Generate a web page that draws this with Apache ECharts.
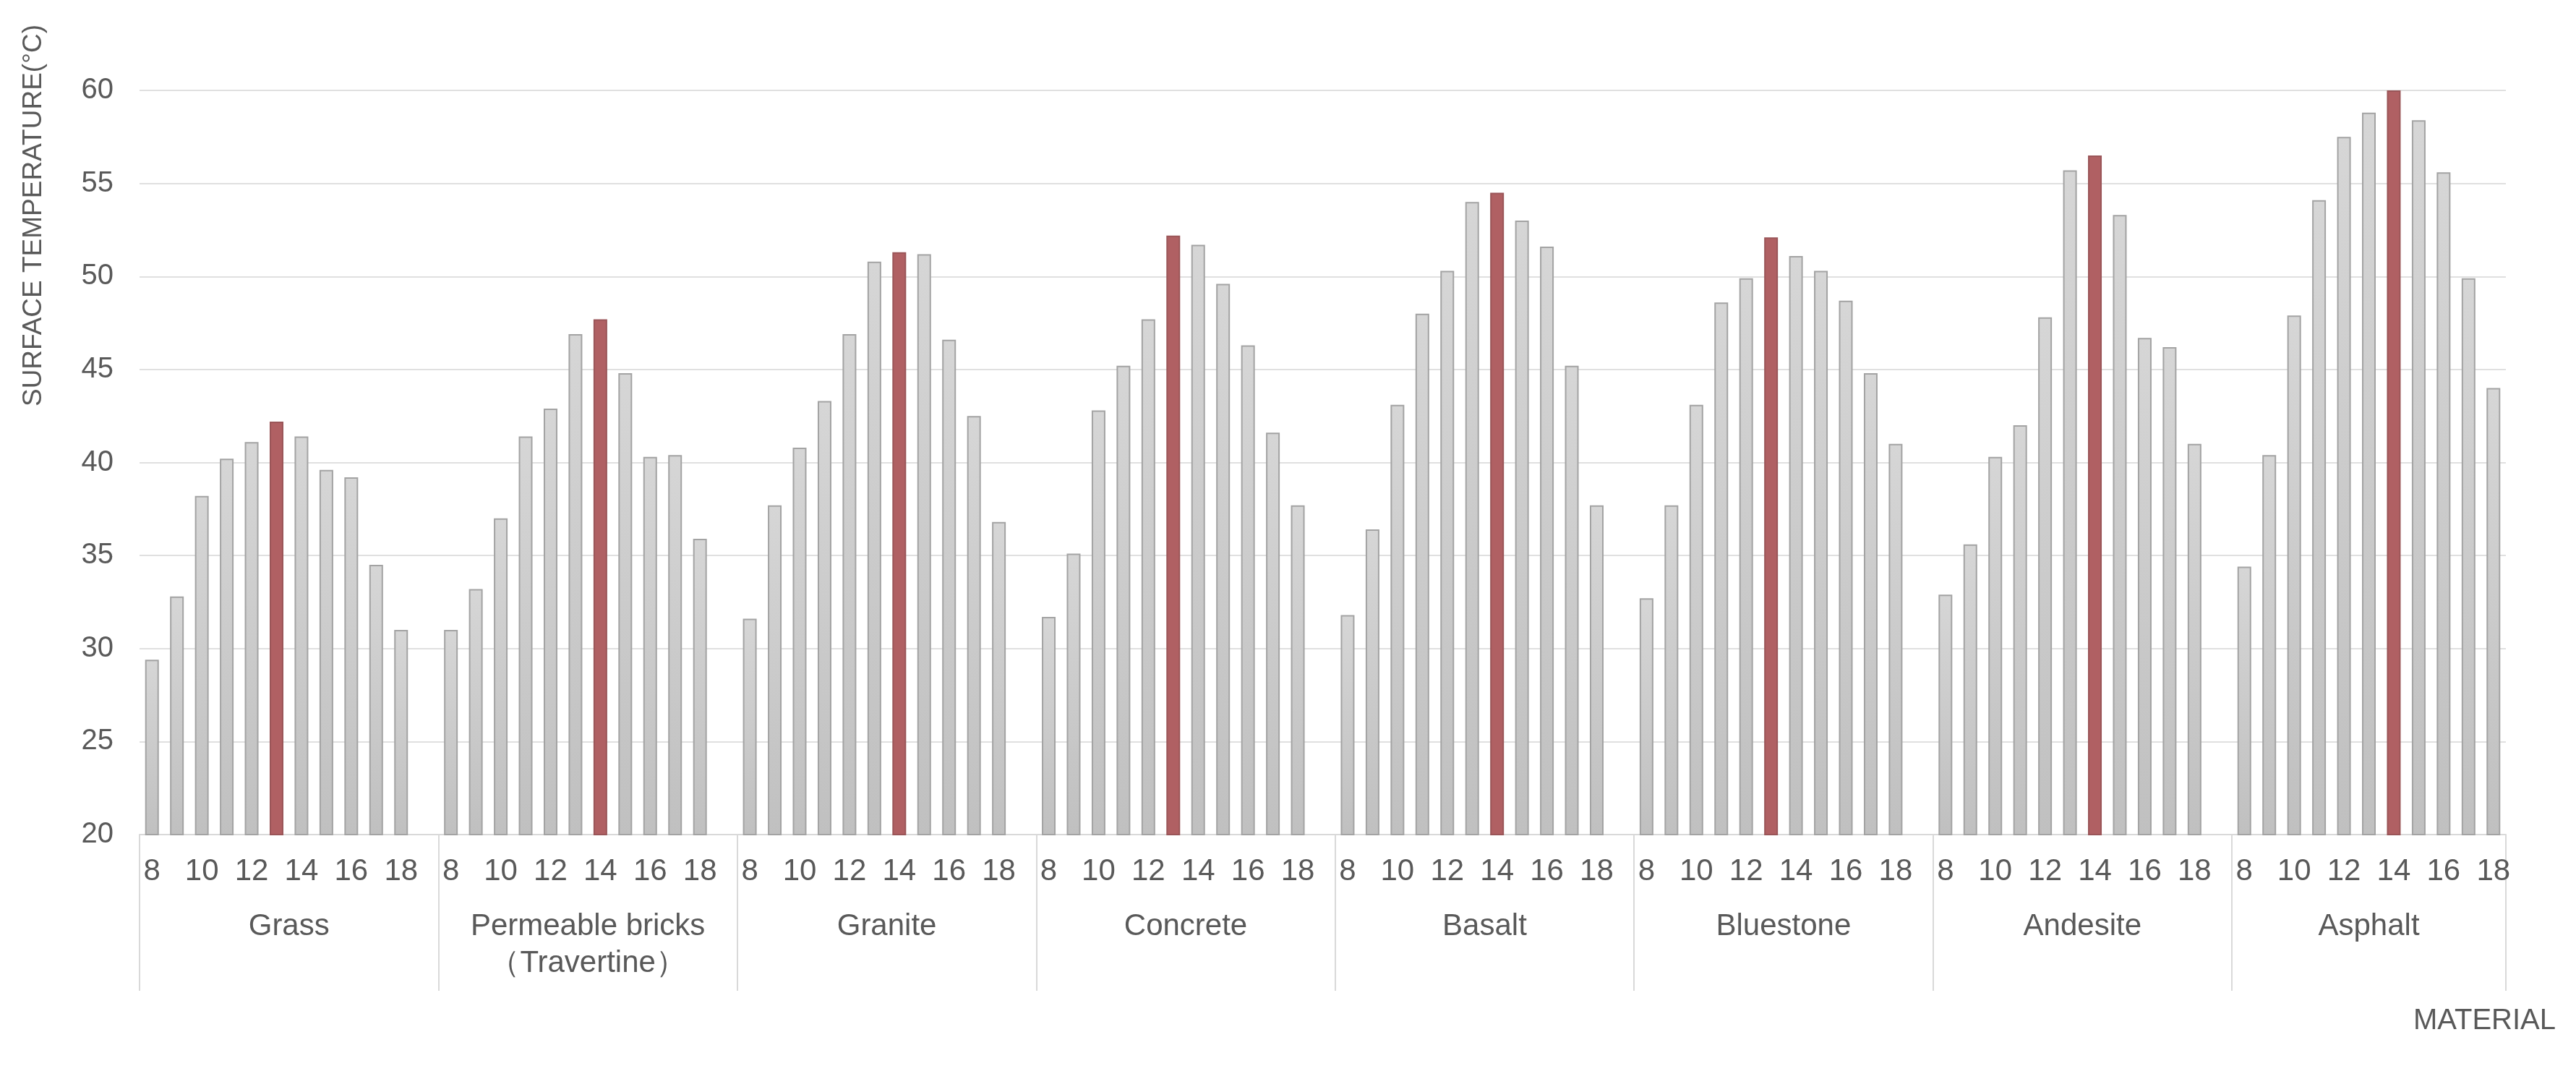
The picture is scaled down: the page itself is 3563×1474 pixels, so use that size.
<!DOCTYPE html>
<html>
<head>
<meta charset="utf-8">
<script src="https://cdn.jsdelivr.net/npm/echarts@6/dist/echarts.min.js"></script>
<style>
html,body{margin:0;padding:0;background:#fff;}
#chart{width:3563px;height:1474px;}
</style>
</head>
<body>
<div id="chart"></div>
<script>
// ---- data ----
const materials = ['Grass', 'Permeable bricks\n（Travertine）', 'Granite', 'Concrete', 'Basalt', 'Bluestone', 'Andesite', 'Asphalt'];
const hours = [8, 9, 10, 11, 12, 13, 14, 15, 16, 17, 18];
const grass      = [29.4, 32.8, 38.2, 40.2, 41.1, 42.2, 41.4, 39.6, 39.2, 34.5, 31.0];
const permeable  = [31.0, 33.2, 37.0, 41.4, 42.9, 46.9, 47.7, 44.8, 40.3, 40.4, 35.9];
const granite    = [31.6, 37.7, 40.8, 43.3, 46.9, 50.8, 51.3, 51.2, 46.6, 42.5, 36.8];
const concrete   = [31.7, 35.1, 42.8, 45.2, 47.7, 52.2, 51.7, 49.6, 46.3, 41.6, 37.7];
const basalt     = [31.8, 36.4, 43.1, 48.0, 50.3, 54.0, 54.5, 53.0, 51.6, 45.2, 37.7];
const bluestone  = [32.7, 37.7, 43.1, 48.6, 49.9, 52.1, 51.1, 50.3, 48.7, 44.8, 41.0];
const andesite   = [32.9, 35.6, 40.3, 42.0, 47.8, 55.7, 56.5, 53.3, 46.7, 46.2, 41.0];
const asphalt    = [34.4, 40.4, 47.9, 54.1, 57.5, 58.8, 60.0, 58.4, 55.6, 49.9, 44.0];
const yTicks = [20, 25, 30, 35, 40, 45, 50, 55, 60];
const yTitle = 'SURFACE TEMPERATURE(°C)';
const xTitle = 'MATERIAL';

// ---- build ----
const groups = [grass, permeable, granite, concrete, basalt, bluestone, andesite, asphalt];
const FONT = "'Liberation Sans', Arial, sans-serif";
const TEXT = '#595959';
const gray = {
  type: 'linear', x: 0, y: 0, x2: 0, y2: 1,
  colorStops: [{offset: 0, color: '#d6d6d6'}, {offset: 1, color: '#c0c0c0'}]
};
const slots = [];
const values = [];
const bounds = [];
const centers = [];
groups.forEach((vals, g) => {
  const start = slots.length;
  bounds.push(start);
  let maxI = 0;
  vals.forEach((v, i) => { if (v > vals[maxI]) maxI = i; });
  vals.forEach((v, i) => {
    slots.push(g + '|' + hours[i]);
    values.push(i === maxI
      ? {value: v, itemStyle: {color: '#b06063', borderColor: '#9a5558'}}
      : v);
  });
  if (g < groups.length - 1) { slots.push(g + '|'); values.push(null); }
  centers.push((start + slots.length) / 2);
});
bounds.push(slots.length);

const chart = echarts.init(document.getElementById('chart'), null, {renderer: 'canvas'});
chart.setOption({
  animation: false,
  backgroundColor: '#ffffff',
  textStyle: {fontFamily: FONT},
  grid: {left: 193, right: 97, top: 125, bottom: 320},
  xAxis: [{
    type: 'category',
    data: slots,
    position: 'bottom',
    axisLine: {show: true, lineStyle: {color: '#d9d9d9', width: 2}},
    axisTick: {show: false},
    axisLabel: {
      interval: 0, margin: 30, fontSize: 42, color: TEXT, fontFamily: FONT,
      formatter: (v) => { const h = v.split('|')[1]; return (h !== '' && +h % 2 === 0) ? h : ''; }
    },
    splitLine: {show: false}
  }, {
    type: 'value',
    min: 0, max: slots.length,
    position: 'bottom',
    axisLine: {show: false},
    axisTick: {show: true, customValues: bounds, length: 216, lineStyle: {color: '#d9d9d9', width: 2}},
    axisLabel: {
      show: true, customValues: centers, margin: 102, fontSize: 42, lineHeight: 51,
      color: TEXT, fontFamily: FONT, verticalAlign: 'top',
      formatter: (v) => { const i = centers.indexOf(v); return i >= 0 ? materials[i] : ''; }
    },
    splitLine: {show: false}
  }],
  yAxis: {
    type: 'value', min: 20, max: 60, interval: 5,
    axisLine: {show: false}, axisTick: {show: false},
    axisLabel: {margin: 36, fontSize: 40, color: TEXT, fontFamily: FONT,
      formatter: (v) => yTicks.indexOf(v) >= 0 ? String(v) : ''},
    splitLine: {show: true, lineStyle: {color: '#e0e0e0', width: 2}}
  },
  graphic: [{
    type: 'text', left: 28, top: 34,
    rotation: Math.PI / 2,
    style: {text: yTitle, fontSize: 37, fill: TEXT, fontFamily: FONT}
  }, {
    type: 'text', right: 28, top: 1392,
    style: {text: xTitle, fontSize: 40, fill: TEXT, fontFamily: FONT}
  }],
  series: [{
    type: 'bar',
    xAxisIndex: 0,
    data: values,
    barWidth: 19,
    itemStyle: {color: gray, borderColor: '#a3a3a3', borderWidth: 2}
  }]
});
</script>
</body>
</html>
